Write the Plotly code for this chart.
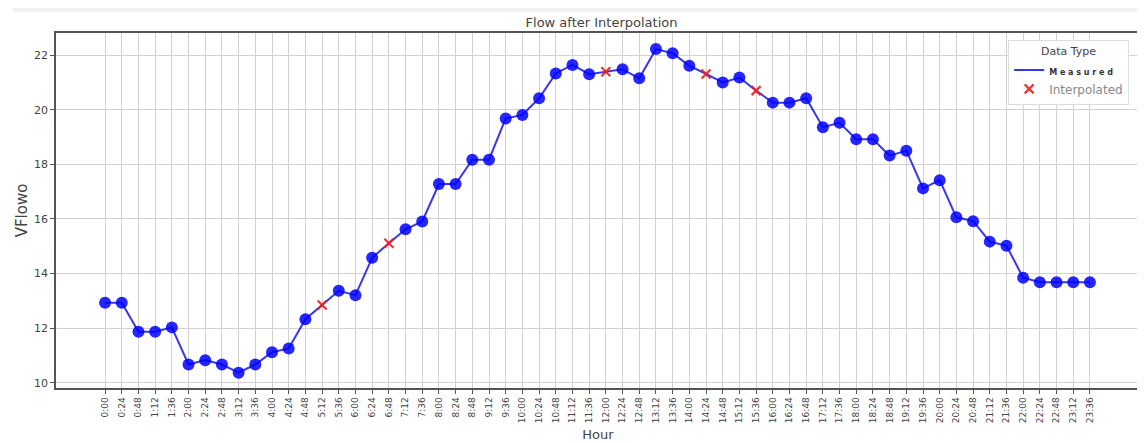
import plotly.graph_objects as go

hours = ["0:00","0:24","0:48","1:12","1:36","2:00","2:24","2:48","3:12","3:36",
         "4:00","4:24","4:48","5:12","5:36","6:00","6:24","6:48","7:12","7:36",
         "8:00","8:24","8:48","9:12","9:36","10:00","10:24","10:48","11:12","11:36",
         "12:00","12:24","12:48","13:12","13:36","14:00","14:24","14:48","15:12","15:36",
         "16:00","16:24","16:48","17:12","17:36","18:00","18:24","18:48","19:12","19:36",
         "20:00","20:24","20:48","21:12","21:36","22:00","22:24","22:48","23:12","23:36"]
flow = [12.93,12.93,11.87,11.87,12.03,10.67,10.83,10.67,10.37,10.67,
        11.12,11.26,12.33,12.85,13.37,13.21,14.58,15.11,15.62,15.91,
        17.28,17.28,18.17,18.17,19.68,19.81,20.42,21.33,21.64,21.30,
        21.39,21.48,21.15,22.22,22.07,21.61,21.31,21.00,21.18,20.70,
        20.26,20.26,20.42,19.36,19.52,18.92,18.92,18.32,18.50,17.12,
        17.42,16.06,15.92,15.17,15.02,13.85,13.68,13.68,13.68,13.68]
interpolated_hours = ["5:12","6:48","12:00","14:24","15:36"]

idx = list(range(len(hours)))
meas_x = [i for i, h in enumerate(hours) if h not in interpolated_hours]
meas_y = [flow[i] for i in meas_x]
int_x = [hours.index(h) for h in interpolated_hours]
int_y = [flow[i] for i in int_x]

fig = go.Figure()
fig.add_trace(go.Scatter(x=idx, y=flow, mode="lines",
                         name='<span style="font-size:8px;color:#334"><b>M e a s u r e d</b></span>',
                         line=dict(color="rgba(20,20,235,0.85)", width=2)))
fig.add_trace(go.Scatter(x=meas_x, y=meas_y, mode="markers", showlegend=False,
                         marker=dict(color="rgba(0,0,255,0.85)", size=12, symbol="circle")))
fig.add_trace(go.Scatter(x=int_x, y=int_y, mode="markers", name="Interpolated",
                         marker=dict(color="rgba(235,30,30,0.9)", size=9, symbol="x-thin",
                                     line=dict(color="rgba(235,30,30,0.9)", width=2.2))))

# page body has an 8px margin: figure is sized to the remaining viewport
W, H = 1137, 435
fig.update_layout(
    width=W, height=H,
    margin=dict(l=48, r=5, t=25, b=55),
    paper_bgcolor="white", plot_bgcolor="white",
    font=dict(family="DejaVu Sans", color="#444"),
    title=dict(text="Flow after Interpolation", x=0.522, xanchor="center", y=1 - 14 / H, yanchor="middle",
               font=dict(size=13, color="#444")),
    legend=dict(title=dict(text="Data Type", side="top center", font=dict(size=11, color="#444")),
                x=0.99, xanchor="right", y=0.98, yanchor="top",
                bgcolor="rgba(255,255,255,0.9)", bordercolor="#ddd", borderwidth=1,
                font=dict(size=12, color="#888"), itemwidth=30, tracegroupgap=0),
    shapes=[dict(type="rect", xref="paper", yref="paper", x0=-0.04, x1=1.01,
                 y0=1 + (25 + 4) / 355 - 8 / 355, y1=1 + (25 + 4) / 355 - 4 / 355,
                 fillcolor="#f1f1f1", line=dict(width=0), layer="below")],
)
fig.update_xaxes(
    range=[-2.94, 62.0], tickmode="array", tickvals=idx, ticktext=hours,
    tickangle=-90, tickfont=dict(size=9, color="#444"),
    showgrid=True, gridcolor="#d2d2d2", gridwidth=1,
    showline=True, linecolor="#555", linewidth=1.5, mirror=True,
    ticks="outside", ticklen=4, tickcolor="#555", zeroline=False, automargin=False,
    title=dict(text="Hour", font=dict(size=13, color="#444"), standoff=8),
)
fig.update_yaxes(
    range=[9.81, 22.81], tickvals=[10, 12, 14, 16, 18, 20, 22],
    tickfont=dict(size=11, color="#444"),
    showgrid=True, gridcolor="#d2d2d2", gridwidth=1,
    showline=True, linecolor="#555", linewidth=1.5, mirror=True,
    ticks="outside", ticklen=4, tickcolor="#555", zeroline=False, automargin=False,
    title=dict(text="VFlowo", font=dict(size=15, color="#444"), standoff=3),
)

fig.write_html("out.html")
